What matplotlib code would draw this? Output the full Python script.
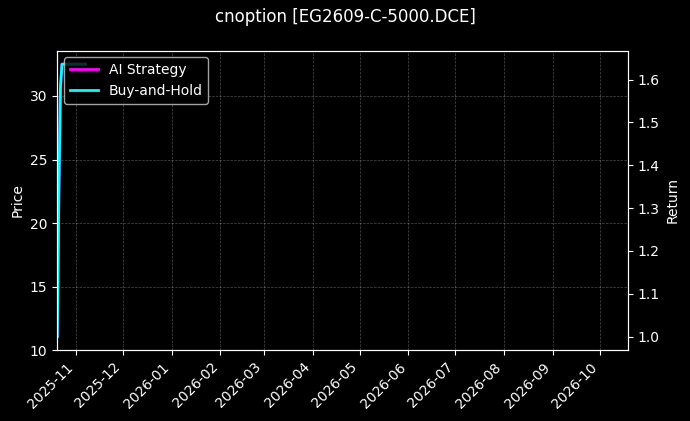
import matplotlib
matplotlib.use("Agg")
import matplotlib.pyplot as plt
import matplotlib.dates as mdates
import pandas as pd

# Data
dates = pd.to_datetime(["2025-10-20", "2025-10-21", "2025-10-22", "2025-10-23", "2025-10-27",
                        "2025-10-31", "2025-11-04", "2025-11-07"])
price = [11.07, 22.0, 30.5, 32.5, 32.5, 32.5, 32.5, 32.5]
ai_strategy = [1.0, 1.33, 1.58, 1.636, 1.636, 1.636, 1.636, 1.636]
buy_hold = [1.0, 1.33, 1.58, 1.636, 1.636, 1.636, 1.636, 1.636]

plt.style.use("dark_background")
fig, ax1 = plt.subplots(figsize=(6.9, 4.21), dpi=100)
ax2 = ax1.twinx()

ax1.plot(dates, price, color="white", lw=1, label="Price")
ax2.plot(dates, ai_strategy, color="magenta", lw=2, label="AI Strategy")
ax2.plot(dates, buy_hold, color="cyan", lw=2, label="Buy-and-Hold")

ax1.set_xlim(pd.Timestamp("2025-10-20"), pd.Timestamp("2026-10-19"))
ax1.set_yticks([10, 15, 20, 25, 30])
ax1.set_ylabel("Price")
ax2.set_ylabel("Return")
ax1.xaxis.set_major_locator(mdates.MonthLocator())
ax1.xaxis.set_major_formatter(mdates.DateFormatter("%Y-%m"))
plt.setp(ax1.get_xticklabels(), rotation=45, ha="right")
ax1.grid(True, linestyle="--", linewidth=0.5, alpha=0.3)
ax2.legend(loc="upper left")
fig.suptitle("cnoption [EG2609-C-5000.DCE]")
fig.subplots_adjust(left=0.083, right=0.91, top=0.88, bottom=0.168)
fig.savefig("out.png")
